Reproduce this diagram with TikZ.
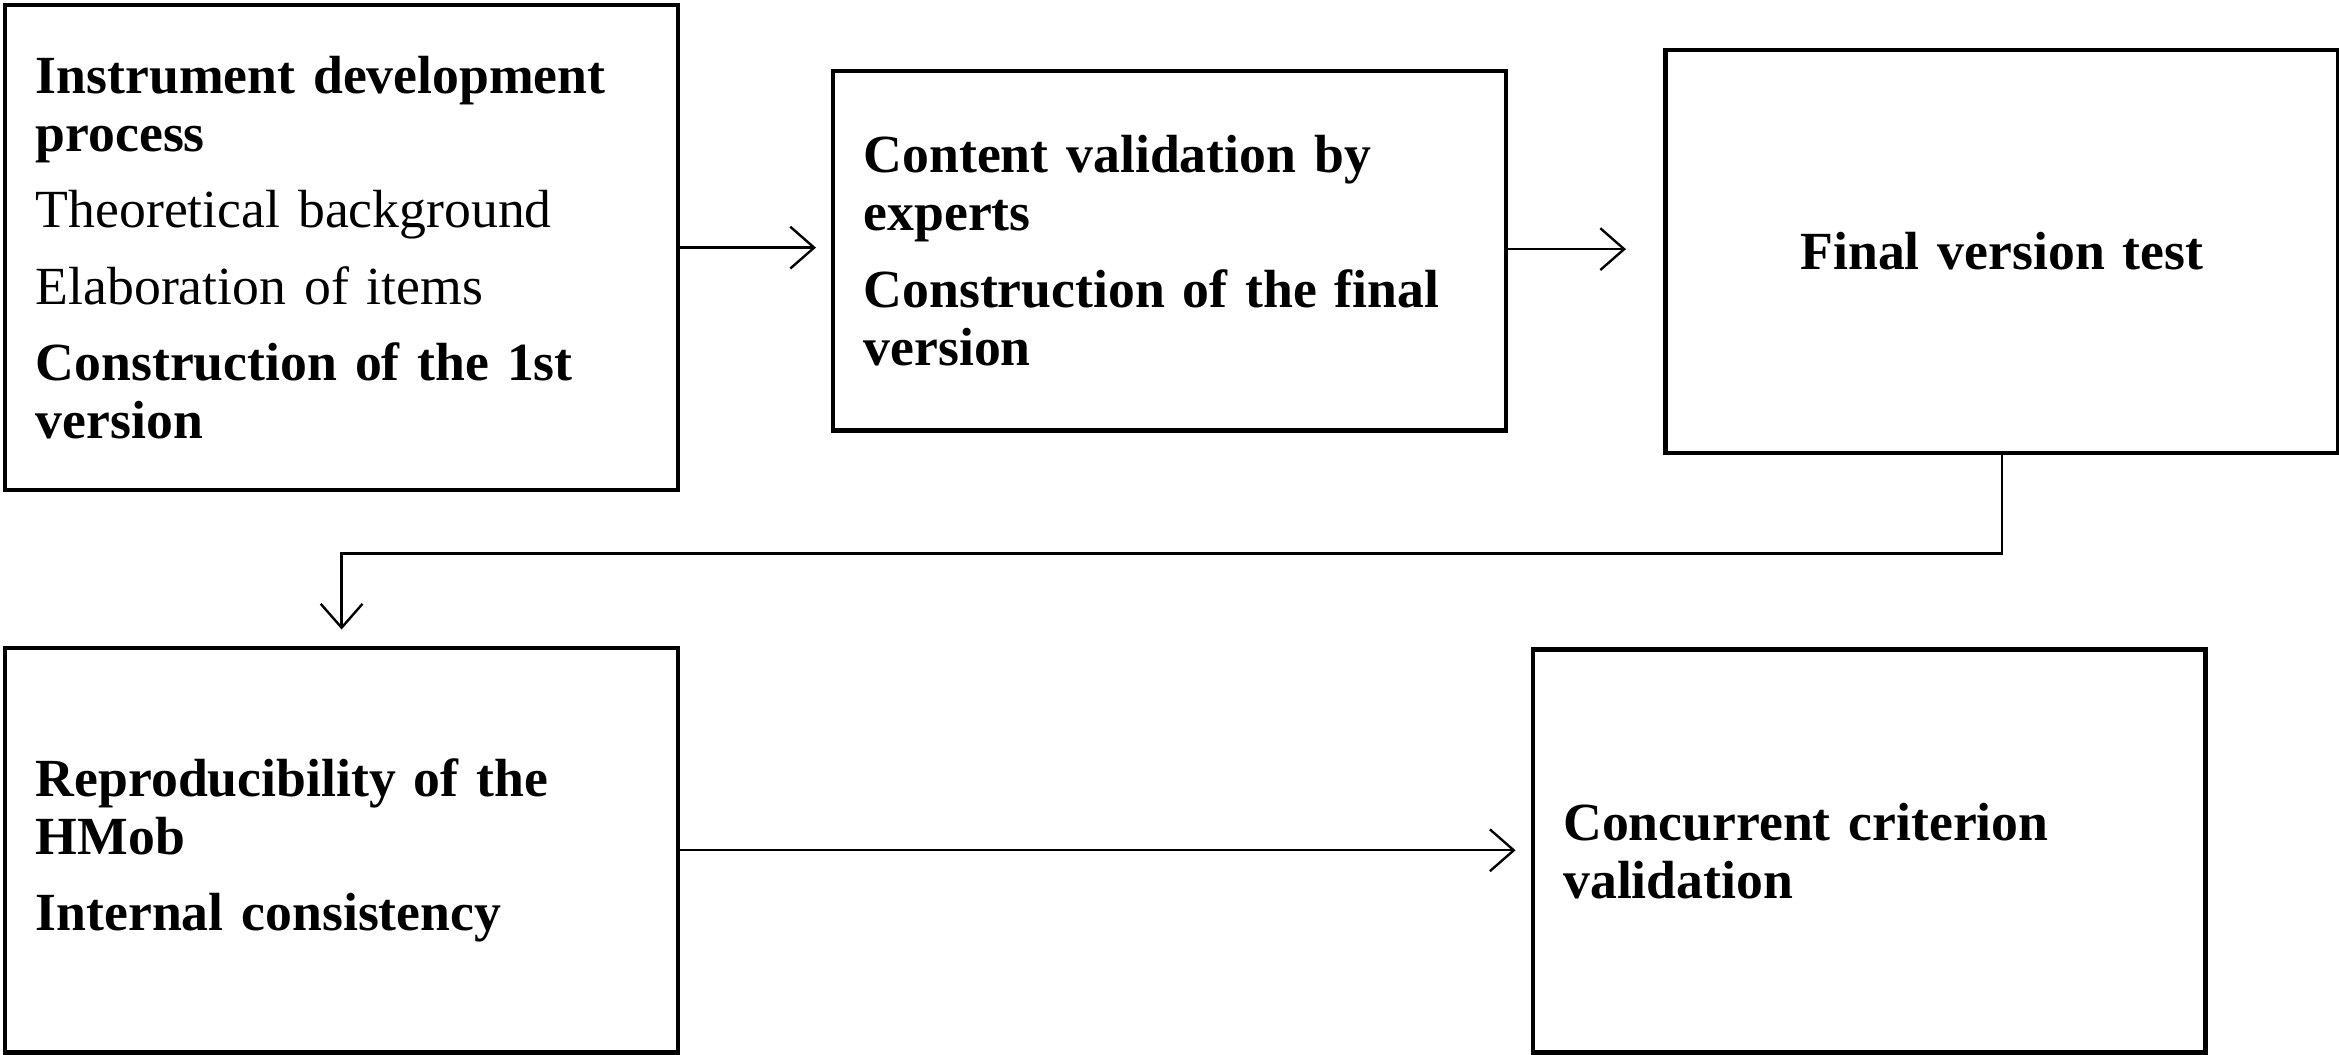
\documentclass[tikz,border=0pt]{standalone}
\usepackage{fontspec}
\setmainfont{Liberation Serif}
\usetikzlibrary{arrows.meta}
\begin{document}
\begin{tikzpicture}[x=0.5pt,y=-0.5pt,
  box/.style={draw,line width=1.5pt,inner sep=0pt,minimum width=225.5pt,text width=205pt,align=left,font=\fontsize{18}{19.5}\selectfont,anchor=north west},
  arr/.style={line width=0.8pt,-{Straight Barb[length=8pt,width=14pt,line width=0.8pt]}}]
\useasboundingbox (0,0) rectangle (1568,707);
\node[box,minimum height=162.5pt] (b1) at (2,2) {\textbf{Instrument development}\\\textbf{process}\\[6pt]Theoretical background\\[6pt]Elaboration of items\\[6pt]\textbf{Construction of the 1st}\\\textbf{version}};
\node[box,minimum height=120.5pt] (b2) at (557,46) {\textbf{Content validation by}\\\textbf{experts}\\[6pt]\textbf{Construction of the final}\\\textbf{version}};
\node[box,minimum height=135pt,align=center] (b3) at (1115,32) {\textbf{Final version test}};
\node[box,minimum height=135.5pt] (b4) at (2,433) {\textbf{Reproducibility of the}\\\textbf{HMob}\\[6pt]\textbf{Internal consistency}};
\node[box,minimum height=135pt] (b5) at (1026,434) {\textbf{Concurrent criterion}\\\textbf{validation}};
\coordinate (a1) at (547,166);
\coordinate (a2) at (1090,167);
\coordinate (a3) at (229,422);
\coordinate (a4) at (1016,570);
\draw[arr] (b1.east |- a1) -- (a1);
\draw[arr] (b2.east |- a2) -- (a2);
\draw[arr] (b3.south) -- ++(0,66) -| (a3);
\draw[arr] (b4.east |- a4) -- (a4);
\end{tikzpicture}
\end{document}
